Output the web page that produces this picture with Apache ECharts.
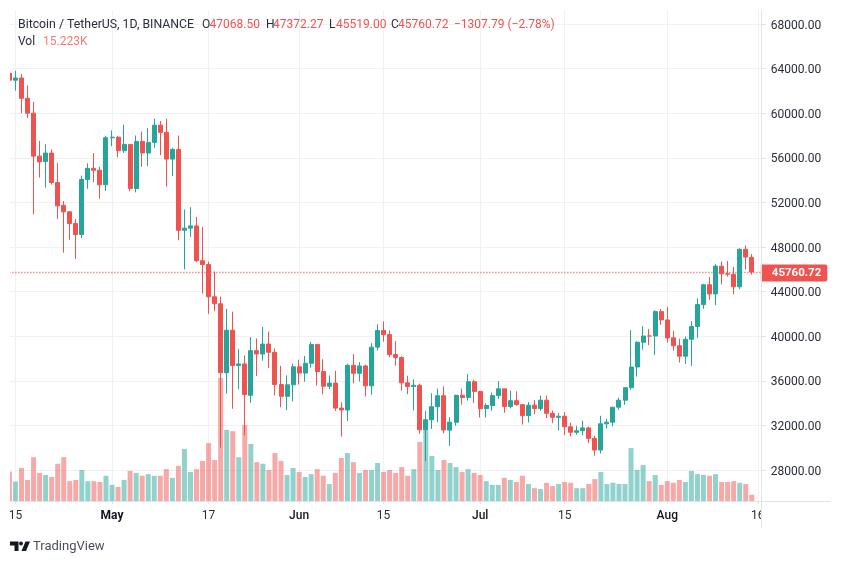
<!DOCTYPE html>
<html><head><meta charset="utf-8">
<style>html,body{margin:0;padding:0;background:#fff}#c{width:841px;height:564px}</style>
<script src="https://cdn.jsdelivr.net/npm/echarts@6/dist/echarts.min.js"></script>
</head><body><div id="c"></div>
<script>
const opens=[63575,62959,63158,61334,60006,56150,55663,56425,53787,51739,51153,50110,49121,54053,55053,54884,53580,
57800,57850,56631,57200,53241,57473,56428,57380,58928,58280,55883,56753,49498,49690,49893,46770,46431,43539,42909,36720,40539,37369,37514,34700,38705,38402,39294,38556,35663,34605,35641,
37253,36694,37568,39246,36829,35513,35796,33552,33380,37388,36675,37331,35546,39020,40516,40143,38349,38092,35820,35483,35600,31614,32509,33675,34663,31576,32283,34702,34494,35911,
35045,33502,33786,34669,35284,33690,34220,33862,32875,33815,33502,34259,33086,32729,32820,31874,31383,31520,31778,30839,29790,32144,32287,33634,34261,35381,37237,39456,40019,40018,42206,
41461,39850,39146,38207,39723,40865,42832,44614,43794,46280,45595,45558,44428,47793,47068.5,null];
const closes=[62959,63159,61334,60006,56150,55633,56425,53787,51690,51153,50110,49121,54053,55053,54884,53580,57800,
57850,56631,57200,53241,57473,56428,57380,58928,58280,55883,56753,49498,49690,49893,46770,46431,43539,42909,36720,40539,37369,37514,34771,38705,38402,39294,38556,35664,34605,35641,37253,
36693,37568,39246,36829,35513,35796,33552,33380,37388,36675,37331,35546,39020,40516,40144,38349,38092,35820,35483,35600,31608,32509,33678,34663,31584,32283,34700,34494,35911,35045,
33504,33786,34669,35286,33690,34220,33862,32875,33815,33502,34258,33086,32729,32820,31880,31383,31520,31778,30839,29790,32144,32287,33634,34258,35381,37237,39457,40019,40016,42206,41461,
39845,39147,38207,39723,40862,42836,44614,43792,46285,45595,45555,44428,47793,47096,45760.72,null];
const lows=[61301,62020,60000,59580,50931,54221,53329,53600,50500,47500,48650,46930,48800,53222,53813,52330,53013,
57046,56035,56435,53000,52900,55200,55241,56900,56235,53400,54370,48600,46000,48900,46650,43825,42001,42250,30000,34850,33488,35257,31111,34031,36419,37800,37134,34684,33632,33379,34153,
35666,35920,37170,35555,34800,35257,33300,31000,32396,35782,35936,34600,34757,38730,39506,38116,37365,35129,34803,33336,31251,28805,31683,32286,31275,30151,31973,33862,34225,34017,
32711,32699,33316,34357,33125,33532,33777,32077,32261,33004,33306,32658,32202,31550,31133,31020,31164,31108,30407,29278,29482,31708,31924,33401,33851,35205,36383,38772,39200,38313,41000,
39422,38690,37642,37508,37332,39853,42450,43261,42779,44650,45341,43770,44217,45971,45519,null];
const highs=[64854,63800,63520,62506,61000,57526,57200,56757,55521,52120,51200,50500,54400,55500,56428,55200,57963,
58458,57944,58981,57200,58000,58360,58650,59500,59300,59500,56900,58000,51367,51569,50700,49800,46686,45800,43546,42451,42200,38850,38270,39920,39791,40841,40411,38900,37338,36488,37534,
37891,38225,39476,39289,37925,36480,36900,34068,37534,38392,37680,37451,39380,41064,41330,40527,39559,38202,36457,36137,35750,33298,34881,35298,35500,32730,34749,35297,36600,36100,
35057,33977,34945,35967,35284,35118,35059,33929,34100,34262,34666,34678,33340,33114,33185,32249,31955,32435,31899,31063,32858,32591,33650,34500,35398,40550,39542,40900,40640,42316,42448,
42599,40480,39780,39969,41350,43392,44700,45310,46454,46700,46743,46218,47886,48144,47372.27,null];
const volumes=[71,47,80,51,106,68,63,58,90,106,48,51,75,48,48,46,61,
39,34,51,73,68,61,65,61,61,77,56,85,126,70,77,97,140,99,298,172,169,106,184,138,94,90,75,116,97,63,80,
70,58,65,77,61,41,68,104,116,94,68,75,75,92,70,75,68,82,61,77,143,172,109,75,99,92,82,70,77,68,
63,48,39,39,56,51,46,61,41,31,29,44,36,41,46,44,31,31,41,53,70,41,44,41,41,128,75,87,48,63,39,
48,44,51,46,73,65,63,61,65,46,46,48,44,41,15.223,null];
const categories=[];
for(const [m,n] of [['04',30],['05',31],['06',30],['07',31],['08',16]])
  for(let d=(m==='04'?14:1);d<=n;d++) categories.push('2021-'+m+'-'+String(d).padStart(2,'0'));
const tickDates=['2021-04-15','2021-05-01','2021-05-17','2021-06-01','2021-06-15','2021-07-01','2021-07-15','2021-08-01','2021-08-16'];
const tickLabels=['15','May','17','Jun','15','Jul','15','Aug','16'];
const lastPrice=45760.72;
const RED='#ef5350',GREEN='#26a69a',GRID='#f1f1f3',AXIS='#e0e3eb',TEXT='#2a2e39';
const FONT='Roboto';

const candleData=opens.map((o,i)=>o===null?'-':[o,closes[i],lows[i],highs[i]]);
const isTick=(i,v)=>tickDates.includes(categories[i]);
const txt=(x,y,s,fill,extra)=>({type:'text',x,y,z:200,style:Object.assign({text:s,fill,font:'12px '+FONT,textVerticalAlign:'middle'},extra||{})});

const chart=echarts.init(document.getElementById('c'),null,{renderer:'canvas'});
chart.setOption({
  animation:false,
  backgroundColor:'#fff',
  grid:[
    {left:6.4,width:754.4,top:24,height:446},
    {left:6.4,width:754.4,top:10,height:491}
  ],
  xAxis:[
    {type:'category',gridIndex:0,data:categories,axisLine:{show:false},axisTick:{show:false},axisLabel:{show:false},splitLine:{show:false}},
    {type:'category',gridIndex:1,data:categories,
     axisLine:{lineStyle:{color:AXIS,width:1}},
     axisTick:{show:true,alignWithLabel:true,interval:isTick,length:3,lineStyle:{color:AXIS}},
     splitLine:{show:true,alignWithLabel:true,interval:isTick,lineStyle:{color:GRID,width:1}},
     axisLabel:{show:true,interval:isTick,margin:9,color:TEXT,fontFamily:FONT,fontSize:12,hideOverlap:false,
       formatter:(v)=>{const t=tickLabels[tickDates.indexOf(v)];return t==='May'?'{b|'+t+'}':/[A-Za-z]/.test(t)?'{c|'+t+'}':t;},
       rich:{b:{fontWeight:'bold',fontSize:12,fontFamily:FONT,color:'#131722'},c:{fontWeight:500,fontSize:12,fontFamily:FONT,color:'#131722'}}}}
  ],
  yAxis:[
    {type:'value',gridIndex:0,position:'right',min:28000,max:68000,interval:4000,
     axisLine:{show:false},axisTick:{show:true,length:5,lineStyle:{color:AXIS}},
     splitLine:{show:true,lineStyle:{color:GRID,width:1}},
     axisLabel:{margin:10,color:TEXT,fontFamily:FONT,fontSize:12,formatter:v=>'{a|'+v.toFixed(2)+'}',
       rich:{a:{fontFamily:FONT,fontSize:12,color:TEXT,padding:[3,0,0,0]}}}},
    {type:'value',gridIndex:1,position:'right',min:0,max:1188,axisLine:{show:false},axisTick:{show:false},axisLabel:{show:false},splitLine:{show:false}}
  ],
  series:[
    {type:'bar',xAxisIndex:1,yAxisIndex:1,data:volumes,barWidth:5,z:2,
     itemStyle:{color:p=>closes[p.dataIndex]<opens[p.dataIndex]?'rgba(239,83,80,0.5)':'rgba(38,166,154,0.5)'}},
    {type:'candlestick',xAxisIndex:0,yAxisIndex:0,data:candleData,barWidth:4.5,z:5,
     itemStyle:{color:GREEN,color0:RED,borderColor:GREEN,borderColor0:RED,borderWidth:1},
     markLine:{symbol:'none',silent:true,z:4,
       lineStyle:{color:RED,type:[1,2],width:1.3,opacity:1},
       label:{show:true,position:'end',formatter:()=>lastPrice.toFixed(2),distance:0,offset:[0,1],
         color:'#fff',fontWeight:'bold',fontFamily:FONT,fontSize:11.5,lineHeight:12,backgroundColor:RED,padding:[3,6,2,11],borderRadius:[0,2,2,0]},
       data:[{yAxis:lastPrice}]}}
  ],
  graphic:[
    {type:'rect',z:150,shape:{x:0,y:0,width:10,height:530},style:{fill:'#fff'}},
    {type:'rect',z:150,shape:{x:761,y:503,width:25,height:26},style:{fill:'#fff'}},
    {type:'line',z:160,shape:{x1:761.5,y1:10,x2:761.5,y2:528},style:{stroke:AXIS,lineWidth:1}},
    {type:'line',z:160,shape:{x1:761,y1:501.5,x2:831,y2:501.5},style:{stroke:AXIS,lineWidth:1}},
    txt(18,25,'Bitcoin / TetherUS, 1D, BINANCE',TEXT,{font:'12.3px '+FONT}),
    txt(202,25,'O',TEXT),txt(209.5,25,'47068.50',RED),
    txt(266,25,'H',TEXT),txt(273,25,'47372.27',RED),
    txt(329,25,'L',TEXT),txt(336,25,'45519.00',RED),
    txt(391,25,'C',TEXT),txt(398,25,'45760.72',RED),
    txt(454,25,'\u22121307.79 (\u22122.78%)',RED),
    txt(18,42,'Vol',TEXT),txt(43,42,'15.223K','#f47c7a'),
    {type:'polygon',z:200,shape:{points:[[10,541.5],[18.5,541.5],[18.5,551],[14.5,551],[14.5,545.5],[10,545.5]]},style:{fill:'#131722'}},
    {type:'circle',z:200,shape:{cx:21,cy:543.5,r:1.9},style:{fill:'#131722'}},
    {type:'polygon',z:200,shape:{points:[[25.5,541.5],[30,541.5],[26,551],[21.5,551]]},style:{fill:'#131722'}},
    txt(33,546.5,'TradingView','#4a4e59',{font:'13px '+FONT})
  ]
});
</script></body></html>
